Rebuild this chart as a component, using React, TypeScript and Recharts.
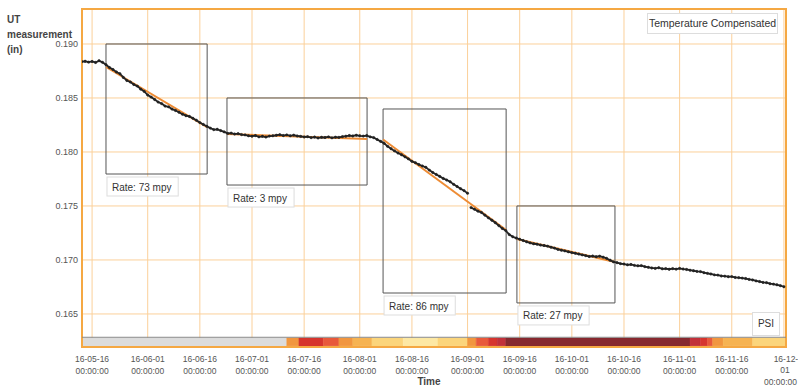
import React from 'react';
import { ComposedChart, Line, XAxis, YAxis, CartesianGrid, ReferenceArea, ReferenceLine } from 'recharts';

// UT readings, one per day starting at day -3 (day 0 = 2016-05-16)
const utStartDay = -3;
const utValues = [
  0.18836, 0.18840, 0.18832, 0.18838, 0.18829, 0.18845, 0.18830, 0.18808, 0.18782, 0.18764,
  0.18741, 0.18725, 0.18690, 0.18662, 0.18648, 0.18625, 0.18610, 0.18582, 0.18561, 0.18527,
  0.18508, 0.18486, 0.18462, 0.18448, 0.18425, 0.18418, 0.18397, 0.18384, 0.18368, 0.18350,
  0.18336, 0.18329, 0.18312, 0.18294, 0.18272, 0.18255, 0.18238, 0.18221, 0.18207, 0.18210,
  0.18198, 0.18186, 0.18172, 0.18175, 0.18166, 0.18170, 0.18161, 0.18158, 0.18150, 0.18146,
  0.18152, 0.18140, 0.18145, 0.18138, 0.18147, 0.18150, 0.18155, 0.18160, 0.18152, 0.18158,
  0.18150, 0.18156, 0.18148, 0.18144, 0.18139, 0.18142, 0.18133, 0.18138, 0.18130, 0.18136,
  0.18134, 0.18140, 0.18131, 0.18137, 0.18135, 0.18142, 0.18146, 0.18152, 0.18148, 0.18155,
  0.18150, 0.18147, 0.18152, 0.18140, 0.18133, 0.18116, 0.18098, 0.18080, 0.18052, 0.18030,
  0.18010, 0.17990, 0.17974, 0.17955, 0.17936, 0.17913, 0.17900, 0.17884, 0.17870, 0.17858,
  0.17832, 0.17810, 0.17792, 0.17774, 0.17755, 0.17740, 0.17724, 0.17700, 0.17680, 0.17660,
  0.17642, 0.17618, 0.17485, 0.17470, 0.17452, 0.17440, 0.17415, 0.17390, 0.17368, 0.17345,
  0.17318, 0.17292, 0.17272, 0.17235, 0.17215, 0.17203, 0.17192, 0.17180, 0.17168, 0.17158,
  0.17150, 0.17146, 0.17138, 0.17134, 0.17128, 0.17118, 0.17110, 0.17098, 0.17090, 0.17084,
  0.17076, 0.17068, 0.17062, 0.17055, 0.17047, 0.17040, 0.17032, 0.17036, 0.17030, 0.17035,
  0.17026, 0.17015, 0.16998, 0.16982, 0.16975, 0.16966, 0.16962, 0.16955, 0.16958, 0.16950,
  0.16946, 0.16948, 0.16938, 0.16932, 0.16926, 0.16922, 0.16928, 0.16918, 0.16920, 0.16914,
  0.16920, 0.16915, 0.16922, 0.16916, 0.16912, 0.16905, 0.16900, 0.16894, 0.16892, 0.16882,
  0.16876, 0.16870, 0.16862, 0.16860, 0.16852, 0.16850, 0.16845, 0.16846, 0.16838, 0.16836,
  0.16832, 0.16828, 0.16820, 0.16815, 0.16806, 0.16800, 0.16792, 0.16790, 0.16780, 0.16776,
  0.16770, 0.16762, 0.16752,
];
const utGapAfterDay = 108;

const xTickDays = [0, 16, 31, 46, 61, 77, 92, 108, 123, 138, 153, 169, 184, 199];
const xTickLabels = [
  '16-05-16', '16-06-01', '16-06-16', '16-07-01', '16-07-16', '16-08-01', '16-08-16',
  '16-09-01', '16-09-16', '16-10-01', '16-10-16', '16-11-01', '16-11-16', '16-12-01',
];
const yTicks = [0.165, 0.17, 0.175, 0.18, 0.185, 0.19];

// rate windows
const boxStartDays = [4.0, 38.8, 83.7, 122.2];
const boxEndDays = [33.1, 79.1, 119.1, 150.4];
const boxLows = [0.17796, 0.17694, 0.16694, 0.16602];
const boxHighs = [0.19, 0.185, 0.18398, 0.175];
const fitStartValues = [0.18787, 0.18167, 0.18116, 0.17194];
const fitEndValues = [0.18231, 0.1812, 0.17278, 0.16981];
const rates = [73, 3, 86, 27];

// PSI strip
const psiStartDays = [-2.9, 56, 59.5, 66.5, 71, 75, 80.5, 89.5, 99.5, 108, 110.5, 114, 116.5, 119, 172, 175, 177, 178.5, 181.5, 190];
const psiLevels = [0, 4, 6, 5, 4, 3, 2, 1, 2, 4, 5, 6, 7, 8, 7, 6, 5, 4, 3, 2];
const psiColors = ['#dcdcdc', '#fde8a4', '#fbd57c', '#f6b352', '#f1963f', '#e8593b', '#d6352e', '#c1313a', '#87292f'];

const X_MIN = -2.9;
const X_MAX = 199.6;
const Y_MIN = 0.16194;
const Y_MAX = 0.19324;

const utData: { day: number; ut: number | null }[] = [];
utValues.forEach((v, i) => {
  const day = utStartDay + i;
  utData.push({ day, ut: v });
  if (day === utGapAfterDay) utData.push({ day: day + 0.4, ut: null });
});

const font = '"Liberation Sans", Arial, sans-serif';

const XTick = (props: any) => {
  const { x, y, payload } = props;
  const idx = xTickDays.indexOf(payload.value);
  const label = xTickLabels[idx] || '';
  const last = idx === xTickDays.length - 1;
  if (last) {
    return (
      <g fontSize={8.5} fill="#555" fontFamily={font}>
        <text x={x + 2} y={y + 12.5} textAnchor="middle">{label.slice(0, 6)}</text>
        <text x={x + 1} y={y + 24} textAnchor="middle">{label.slice(6)}</text>
        <text x={797} y={y + 35.5} textAnchor="end">00:00:00</text>
      </g>
    );
  }
  return (
    <g fontSize={8.5} fill="#555" fontFamily={font}>
      <text x={x} y={y + 12.5} textAnchor="middle">{label}</text>
      <text x={x} y={y + 25} textAnchor="middle">00:00:00</text>
    </g>
  );
};

const RateLabel = (props: any) => {
  const { viewBox, text } = props;
  if (!viewBox) return null;
  const { x, y, height } = viewBox;
  const w = text.length * 5.1 + 10;
  return (
    <g>
      <rect x={x + 1} y={y + height + 3} width={w} height={19} fill="#fff" stroke="#ddd" />
      <text x={x + 6} y={y + height + 16.5} fontSize={10} fill="#333" fontFamily={font}>
        {text}
      </text>
    </g>
  );
};

export default function App() {
  return (
    <div style={{ position: 'absolute', left: 0, top: 0, width: 798, height: 387, background: '#fff', fontFamily: font }}>
      <ComposedChart width={798} height={387} data={utData} margin={{ top: 9, right: 12, bottom: 0, left: 0 }}>
        <CartesianGrid stroke="#fbd09a" strokeWidth={1} />
        <XAxis
          type="number"
          dataKey="day"
          domain={[X_MIN, X_MAX]}
          ticks={xTickDays}
          allowDataOverflow
          tick={<XTick />}
          tickSize={0}
          axisLine={false}
          height={40}
          interval={0}
        />
        <YAxis
          type="number"
          domain={[Y_MIN, Y_MAX]}
          ticks={yTicks}
          allowDataOverflow
          width={82}
          tickFormatter={(v: number) => v.toFixed(3)}
          tick={{ fontSize: 9, fill: '#555', fontFamily: font }}
          axisLine={false}
          tickSize={0}
          tickMargin={4}
        />
        {psiStartDays.map((s, i) => (
          <ReferenceArea
            key={`psi-${i}`}
            x1={s}
            x2={i < psiStartDays.length - 1 ? psiStartDays[i + 1] : X_MAX}
            y1={0.16204}
            y2={0.16278}
            fill={psiColors[psiLevels[i]]}
            fillOpacity={1}
            stroke={psiColors[psiLevels[i]]}
            strokeWidth={0.5}
            ifOverflow="visible"
          />
        ))}
        <ReferenceLine y={0.16284} stroke="#888" strokeWidth={1} />
        {boxStartDays.map((s, i) => (
          <ReferenceArea
            key={`box-${i}`}
            x1={s}
            x2={boxEndDays[i]}
            y1={boxLows[i]}
            y2={boxHighs[i]}
            fill="none"
            fillOpacity={0}
            stroke="#555"
            strokeWidth={1}
            ifOverflow="visible"
            label={<RateLabel text={`Rate: ${rates[i]} mpy`} />}
          />
        ))}
        {boxStartDays.map((s, i) => (
          <ReferenceLine
            key={`fit-${i}`}
            segment={[
              { x: s, y: fitStartValues[i] },
              { x: boxEndDays[i], y: fitEndValues[i] },
            ]}
            stroke="#ee8c35"
            strokeWidth={2}
            ifOverflow="visible"
          />
        ))}
        <Line
          type="linear"
          dataKey="ut"
          stroke="#222"
          strokeWidth={1.8}
          dot={{ r: 1.2, fill: '#222', stroke: '#222', strokeWidth: 0.5 }}
          activeDot={false}
          connectNulls={false}
          isAnimationActive={false}
        />
        <ReferenceArea
          x1={X_MIN}
          x2={X_MAX}
          y1={Y_MIN}
          y2={Y_MAX}
          fill="none"
          fillOpacity={0}
          stroke="#f5a843"
          strokeWidth={2}
          ifOverflow="visible"
        />
      </ComposedChart>
      <div style={{ position: 'absolute', left: 7, top: 12, fontSize: 10, fontWeight: 'bold', lineHeight: '15px', color: '#444' }}>
        UT<br />measurement<br />(in)
      </div>
      <div style={{ position: 'absolute', left: 400, top: 376, width: 58, textAlign: 'center', fontSize: 10, fontWeight: 'bold', lineHeight: '12px', color: '#444' }}>
        Time
      </div>
      <div style={{ position: 'absolute', left: 647, top: 13, width: 129, height: 19, border: '1px solid #ddd', background: '#fff', fontSize: 10.5, textAlign: 'center', lineHeight: '19px', color: '#333' }}>
        Temperature Compensated
      </div>
      <div style={{ position: 'absolute', left: 752, top: 312, width: 26, height: 22, border: '1px solid #ddd', background: '#fff', fontSize: 10, textAlign: 'center', lineHeight: '22px', color: '#333' }}>
        PSI
      </div>
    </div>
  );
}
